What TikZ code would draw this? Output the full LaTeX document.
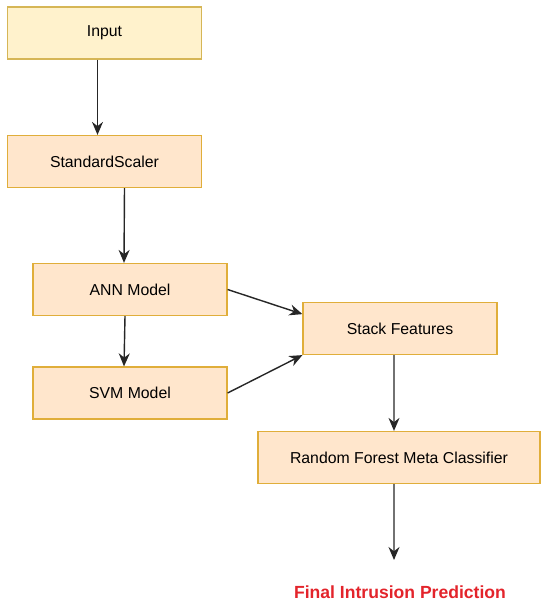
\documentclass[tikz,border=0pt]{standalone}
\usepackage{fontspec}
\setmainfont{Liberation Sans}
\usetikzlibrary{arrows.meta,calc}
\definecolor{inputfill}{HTML}{FFF2CC}
\definecolor{inputline}{HTML}{D6B656}
\definecolor{stepfill}{HTML}{FFE6CC}
\definecolor{stepline}{HTML}{E0AE3A}
\definecolor{finalred}{HTML}{E3242B}
\tikzset{
	stage/.style={draw=stepline, fill=stepfill, line width=0.7pt, minimum width=3.88cm, minimum height=1.04cm, font=\fontsize{9}{11}\selectfont},
	flow/.style={line width=0.8pt, color=black!85, -{Stealth[length=2.6mm, width=2.2mm]}}
}

\begin{document}
\begin{tikzpicture}[x=0.02cm, y=-0.02cm]
			%%%%% START %%%%%
			
			\useasboundingbox (0, 0) rectangle (550, 608);
			
			\node[stage, draw=inputline, fill=inputfill] (input) at (104.5, 33) {Input};
			\node[stage] (scaler) at (104.5, 161.5) {StandardScaler};
			\node[stage] (ann) at (130, 289.5) {ANN Model};
			\node[stage] (svm) at (130, 393) {SVM Model};
			\node[stage] (stack) at (400, 328.5) {Stack Features};
			\node[stage, minimum width=5.64cm] (forest) at (399, 457.5) {Random Forest Meta Classifier};
			\node[text=finalred, font=\fontsize{10}{12}\selectfont\bfseries] (final) at (400, 592) {Final Intrusion Prediction};
			
			\coordinate (out) at (394, 560);
			
			\draw[flow] ([xshift=-0.14cm]input.south) -- ([xshift=-0.14cm]scaler.north);
			\draw[flow] ([xshift=0.4cm]scaler.south) -- ([xshift=-0.12cm]ann.north);
			\draw[flow] ([xshift=-0.1cm]ann.south) -- ([xshift=-0.12cm]svm.north);
			\draw[flow] (ann.east) -- ($(stack.north west)!0.23!(stack.south west)$);
			\draw[flow] (svm.east) -- (stack.south west);
			\draw[flow] ([xshift=-0.12cm]stack.south) -- ([xshift=-0.1cm]forest.north);
			\draw[flow] ([xshift=-0.1cm]forest.south) -- (out);
			
			%%%%% END %%%%%
		\end{tikzpicture}
\end{document}
